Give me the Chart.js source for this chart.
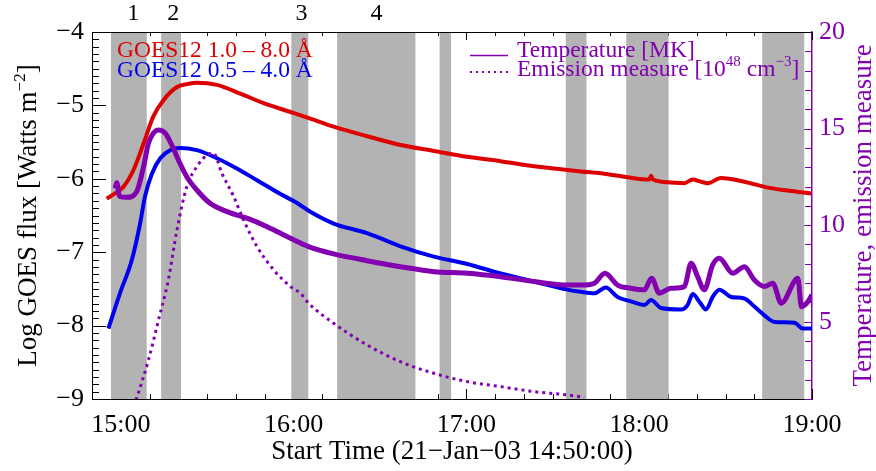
<!DOCTYPE html>
<html>
<head>
<meta charset="utf-8">
<script src="https://cdn.jsdelivr.net/npm/chart.js@4.4.1/dist/chart.umd.min.js"></script>
<style>
  html, body { margin: 0; padding: 0; background: #fff; }
  #wrap { width: 876px; height: 471px; }
</style>
</head>
<body>
<div id="wrap"><canvas id="chart" width="876" height="471"></canvas></div>
<script>
// time is in minutes after 14:50:00 UT
const xTickValues = [10, 70, 130, 190, 250];
const xTickLabels = ['15:00', '16:00', '17:00', '18:00', '19:00'];
const fluxTicks = [-9, -8, -7, -6, -5, -4];
const tempTicks = [5, 10, 15, 20];

// shaded intervals
const bandStart = [6.6, 24.0, 69.2, 85.1, 120.7, 164.5, 185.5, 232.7];
const bandEnd = [19.0, 30.9, 75.1, 112.3, 124.7, 171.7, 200.2, 247.3];
const bandLabels = ['1', '2', '3', '4'];
const bandLabelTimes = [14.3, 28.2, 72.7, 98.8];

// GOES12 1.0 - 8.0 A, log flux
const longTime = [5.1, 8, 10.9, 14.4, 17.9, 21.3, 24.8, 29.5, 33, 36.4, 43.4, 51.5, 59.6, 68.9, 75.8,
  83.9, 95.5, 107.1, 118.7, 130.3, 141.9, 153.5, 165.1, 169.7, 177.8, 186, 193.5, 194.1, 194.8,
  201, 205.6, 208.6, 211.5, 213.8, 218.4, 226.5, 234.7, 241.6, 249.7];
const longFlux = [-6.27, -6.2, -6.11, -5.88, -5.52, -5.15, -4.93, -4.75, -4.71, -4.69, -4.72, -4.84, -4.97, -5.09, -5.18,
  -5.29, -5.42, -5.54, -5.62, -5.70, -5.76, -5.83, -5.88, -5.90, -5.93, -5.98, -6.01, -5.96, -6.01,
  -6.05, -6.06, -6.01, -6.04, -6.06, -5.99, -6.04, -6.12, -6.16, -6.20];

// GOES12 0.5 - 4.0 A, log flux
const shortTime = [5.7, 9.7, 13.8, 16.7, 18.4, 20.8, 23.7, 27.1, 30.6, 36.4, 43.4, 50.3, 57.3, 64.2, 71.2, 75.8,
  83.9, 95.5, 107.1, 118.7, 130.3, 141.9, 153.5, 165.1, 169.7, 174.4, 178.4, 182.5, 187.1, 191.8, 194.1,
  197.6, 204.5, 206.8, 208.6, 211, 213.2, 215.5, 217.8, 221.9, 226.5, 230, 233.5, 237, 243.9, 246.8, 250];
const shortFlux = [-8.04, -7.56, -7.11, -6.61, -6.24, -5.93, -5.72, -5.61, -5.58, -5.61, -5.72, -5.86, -6.02, -6.18, -6.33, -6.45,
  -6.61, -6.74, -6.92, -7.06, -7.16, -7.29, -7.40, -7.51, -7.54, -7.56, -7.48, -7.61, -7.67, -7.72, -7.65,
  -7.76, -7.78, -7.72, -7.57, -7.68, -7.78, -7.61, -7.51, -7.61, -7.63, -7.74, -7.86, -7.95, -7.96, -8.04, -8.04];

// temperature [MK]
const tempTime = [8, 8.6, 9.5, 12.1, 15.5, 17.9, 19.6, 21.3, 23.1, 25.4, 27.7, 30, 32.9, 36.4, 41, 46.9,
  53.8, 60.8, 68.9, 75.2, 83.9, 95.5, 107.1, 118.7, 130.3, 141.9, 153.5, 165.1, 169.7, 174.4, 178.1,
  182.5, 187.1, 191.8, 194.3, 197, 201, 205.7, 208, 210.3, 212.6, 215.5, 217.8, 222.5, 226.5, 230,
  233.5, 236.4, 239.3, 245.1, 246.3, 248.6, 250];
const tempValue = [11.9, 12.2, 11.5, 11.44, 11.73, 13.03, 14.24, 14.76, 14.93, 14.76, 14.15, 13.37, 12.51, 11.82, 11.13, 10.70,
  10.36, 9.92, 9.32, 8.89, 8.51, 8.16, 7.85, 7.59, 7.51, 7.33, 7.08, 6.90, 6.90, 6.99, 7.51,
  6.90, 6.73, 6.65, 7.25, 6.48, 6.73, 6.82, 8.03, 7.33, 6.65, 7.94, 8.29, 7.51, 7.85, 7.16,
  6.82, 6.99, 5.96, 7.25, 5.78, 6.04, 6.39];

// emission measure [1e48 cm^-3]
const emTime = [14.5, 15.5, 19.6, 23.1, 26.5, 29.5, 32.9, 36.4, 39.9, 42.2, 45.1, 49.2, 52.6, 57.3, 63.1, 68.9,
  72.3, 75.2, 83.9, 95.5, 107.1, 118.7, 130.3, 141.9, 153.5, 165.1, 170.9];
const emValue = [0.6, 1.04, 3.02, 5.09, 7.16, 9.75, 11.99, 13.03, 13.63, 13.72, 12.69, 11.48, 10.27, 8.89, 7.68, 6.82,
  6.48, 5.96, 4.92, 3.80, 2.93, 2.33, 1.90, 1.64, 1.38, 1.21, 1.09];

const RED = '#dd0000';
const BLUE = '#0000ee';
const PURPLE = '#8200b0';
const GREY = '#b3b3b3';
const SERIF = '"Liberation Serif", "Times New Roman", serif';

const toPoints = (xs, ys) => xs.map((t, i) => ({ x: t, y: ys[i] }));
const minus = (v) => String(v).replace('-', '\u2212');

// draws a run of text pieces, some raised as superscripts
function drawRich(ctx, parts, x, y, size, center) {
  const big = `${size}px ${SERIF}`;
  const small = `${Math.round(size * 0.62)}px ${SERIF}`;
  const widths = parts.map((p) => {
    ctx.font = p.sup ? small : big;
    return ctx.measureText(p.t).width;
  });
  let cx = center ? x - widths.reduce((a, b) => a + b, 0) / 2 : x;
  parts.forEach((p, i) => {
    ctx.font = p.sup ? small : big;
    ctx.fillText(p.t, cx, p.sup ? y - size * 0.4 : y);
    cx += widths[i];
  });
}

const framePlugin = {
  id: 'frame',
  beforeDatasetsDraw(chart) {
    const { ctx, chartArea: a } = chart;
    const { x, y, y2 } = chart.scales;
    ctx.save();
    ctx.lineWidth = 1;

    // inward tick marks
    ctx.strokeStyle = '#000';
    ctx.beginPath();
    for (let m = 0; m <= 250; m += 10) {
      const px = Math.round(x.getPixelForValue(m)) + 0.5;
      const major = xTickValues.includes(m);
      ctx.moveTo(px, a.bottom);
      ctx.lineTo(px, a.bottom - (major ? 10 : 5));
      ctx.moveTo(px, a.top);
      ctx.lineTo(px, a.top + (major ? 8 : 4));
    }
    for (let k = -90; k <= -40; k++) {
      const py = Math.round(y.getPixelForValue(k / 10)) + 0.5;
      ctx.moveTo(a.left, py);
      ctx.lineTo(a.left + (k % 10 === 0 ? 14 : 7), py);
    }
    ctx.stroke();

    ctx.strokeStyle = PURPLE;
    ctx.beginPath();
    for (let v = 1; v <= 20; v++) {
      const py = Math.round(y2.getPixelForValue(v)) + 0.5;
      ctx.moveTo(a.right, py);
      ctx.lineTo(a.right - (v % 5 === 0 ? 14 : 7), py);
    }
    ctx.stroke();

    // shaded intervals cover the ticks
    ctx.fillStyle = GREY;
    bandStart.forEach((s, i) => {
      const x0 = x.getPixelForValue(s);
      const x1 = x.getPixelForValue(bandEnd[i]);
      ctx.fillRect(x0, a.top + 1, x1 - x0, a.bottom - a.top - 1);
    });

    // top frame line
    ctx.strokeStyle = '#000';
    ctx.beginPath();
    ctx.moveTo(a.left, a.top + 0.5);
    ctx.lineTo(a.right, a.top + 0.5);
    ctx.stroke();
    ctx.restore();
  },
  afterDraw(chart) {
    const { ctx, chartArea: a } = chart;
    const { x } = chart.scales;
    ctx.save();
    ctx.textBaseline = 'alphabetic';
    ctx.textAlign = 'left';

    // interval numbers above the frame
    ctx.fillStyle = '#000';
    ctx.font = `24px ${SERIF}`;
    ctx.textAlign = 'center';
    bandLabels.forEach((lab, i) => ctx.fillText(lab, x.getPixelForValue(bandLabelTimes[i]), 20));
    ctx.textAlign = 'left';

    // GOES legend
    ctx.font = `23.5px ${SERIF}`;
    ctx.fillStyle = RED;
    ctx.fillText('GOES12 1.0 \u2013 8.0 \u00c5', 117, 57);
    ctx.fillStyle = BLUE;
    ctx.fillText('GOES12 0.5 \u2013 4.0 \u00c5', 117, 77);

    // temperature / emission measure legend
    ctx.strokeStyle = PURPLE;
    ctx.lineWidth = 1.5;
    ctx.beginPath();
    ctx.moveTo(470, 55.5);
    ctx.lineTo(508, 55.5);
    ctx.stroke();
    ctx.lineWidth = 2;
    ctx.setLineDash([2, 4]);
    ctx.beginPath();
    ctx.moveTo(470, 72);
    ctx.lineTo(508, 72);
    ctx.stroke();
    ctx.setLineDash([]);
    ctx.fillStyle = PURPLE;
    ctx.font = `23.5px ${SERIF}`;
    ctx.fillText('Temperature [MK]', 517, 56.5);
    drawRich(ctx, [
      { t: 'Emission measure [10' }, { t: '48', sup: true },
      { t: ' cm' }, { t: '\u22123', sup: true }, { t: ']' },
    ], 517, 75.5, 23.5, false);

    // axis titles, both reading bottom to top
    const midY = (a.top + a.bottom) / 2;
    ctx.save();
    ctx.translate(36, midY);
    ctx.rotate(-Math.PI / 2);
    ctx.fillStyle = '#000';
    drawRich(ctx, [{ t: 'Log GOES flux [Watts m' }, { t: '\u22122', sup: true }, { t: ']' }], 0, 0, 27, true);
    ctx.restore();

    ctx.save();
    ctx.translate(871, midY);
    ctx.rotate(-Math.PI / 2);
    ctx.fillStyle = PURPLE;
    drawRich(ctx, [{ t: 'Temperature, emission measure' }], 0, 0, 27, true);
    ctx.restore();

    ctx.restore();
  },
};

new Chart(document.getElementById('chart'), {
  type: 'line',
  data: {
    datasets: [
      {
        label: 'Temperature [MK]',
        data: toPoints(tempTime, tempValue),
        yAxisID: 'y2',
        borderColor: PURPLE,
        borderWidth: 5,
        cubicInterpolationMode: 'monotone',
      },
      {
        label: 'Emission measure',
        data: toPoints(emTime, emValue),
        yAxisID: 'y2',
        borderColor: PURPLE,
        borderWidth: 3,
        borderDash: [3, 4],
        cubicInterpolationMode: 'monotone',
      },
      {
        label: 'GOES12 0.5-4.0 A',
        data: toPoints(shortTime, shortFlux),
        yAxisID: 'y',
        borderColor: BLUE,
        borderWidth: 4,
        cubicInterpolationMode: 'monotone',
      },
      {
        label: 'GOES12 1.0-8.0 A',
        data: toPoints(longTime, longFlux),
        yAxisID: 'y',
        borderColor: RED,
        borderWidth: 4,
        cubicInterpolationMode: 'monotone',
      },
    ],
  },
  options: {
    responsive: false,
    animation: false,
    devicePixelRatio: 1,
    layout: { padding: { top: 32, left: 0, right: 0, bottom: 0 } },
    elements: { point: { radius: 0 } },
    plugins: { legend: { display: false }, tooltip: { enabled: false } },
    scales: {
      x: {
        type: 'linear',
        min: 0,
        max: 250,
        afterBuildTicks: (s) => { s.ticks = xTickValues.map((v) => ({ value: v })); },
        afterFit: (s) => { s.height = 72; },
        grid: { display: false, drawTicks: false },
        border: { color: '#000', width: 1 },
        ticks: {
          color: '#000',
          font: { family: SERIF, size: 26 },
          padding: 11,
          maxRotation: 0,
          callback: (v, i) => xTickLabels[i],
        },
        title: {
          display: true,
          text: 'Start Time (21\u2212Jan\u221203 14:50:00)',
          color: '#000',
          font: { family: SERIF, size: 27 },
          padding: { top: 0, bottom: 3 },
        },
      },
      y: {
        position: 'left',
        min: -9,
        max: -4,
        afterBuildTicks: (s) => { s.ticks = fluxTicks.map((v) => ({ value: v })); },
        afterFit: (s) => { s.width = 92; },
        grid: { display: false, drawTicks: false },
        border: { color: '#000', width: 1 },
        ticks: { color: '#000', font: { family: SERIF, size: 26 }, padding: 8, callback: (v) => minus(v) },
      },
      y2: {
        position: 'right',
        min: 1,
        max: 20,
        afterBuildTicks: (s) => { s.ticks = tempTicks.map((v) => ({ value: v })); },
        afterFit: (s) => { s.width = 64; },
        grid: { display: false, drawTicks: false },
        border: { color: PURPLE, width: 1.5 },
        ticks: { color: PURPLE, font: { family: SERIF, size: 26 }, padding: 7 },
      },
    },
  },
  plugins: [framePlugin],
});
</script>
</body>
</html>
